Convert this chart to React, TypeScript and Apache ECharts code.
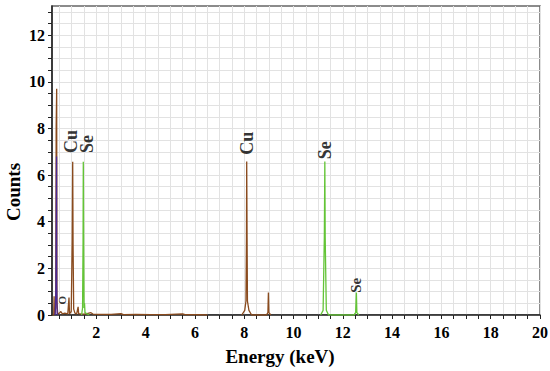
import React, { useEffect, useRef } from "react";
import * as echarts from "echarts";

// Tick positions and labels
const xTickValues = [0.5,1,1.5,2,2.5,3,3.5,4,4.5,5,5.5,6,6.5,7,7.5,8,8.5,9,9.5,10,10.5,11,11.5,12,12.5,13,13.5,14,14.5,15,15.5,16,16.5,17,17.5,18,18.5,19,19.5,20];
const xLabelValues = [2,4,6,8,10,12,14,16,18,20];
const yTickValues = [0,0.5,1,1.5,2,2.5,3,3.5,4,4.5,5,5.5,6,6.5,7,7.5,8,8.5,9,9.5,10,10.5,11,11.5,12,12.5,13];
const yLabelValues = [0,2,4,6,8,10,12];
const xTitle = "Energy (keV)";
const yTitle = "Counts";

// Spectrum traces: [energy keV, counts]
const lowPurple = [[0.33,0],[0.36,1.2],[0.385,6.8],[0.39,1.3],[0.41,0]];
const lowBrown = [[0.22,0],[0.27,0],[0.285,0.8],[0.30,0.05],[0.35,0.3],[0.37,8.1],[0.39,9.7],[0.40,0.6],[0.43,0.05],[0.5,0.08],[0.56,0.15],[0.62,0.05],[0.72,0.08],[0.84,0.05],[0.89,0.75],[0.91,0.05],[0.98,0.15],[1.02,3.2],[1.04,6.57],[1.055,3.0],[1.08,0.25],[1.13,0.08],[1.2,0.05],[1.26,0.35],[1.28,0.06],[1.36,0.05],[1.5,0.04],[1.62,0.06],[1.78,0.1],[1.86,0.04],[2.1,0.03],[2.6,0.03],[3.0,0.06],[3.1,0.02],[3.6,0.03],[4.2,0.02],[4.8,0.02],[5.5,0.05],[5.6,0.02],[6.2,0.01],[6.5,0]];
const seL = [[1.40,0],[1.44,0.3],[1.46,3.1],[1.47,6.57],[1.485,2.9],[1.50,0.3],[1.52,0.5],[1.54,0.1],[1.62,0.05],[1.72,0]];
const cuK = [[7.9,0],[8.02,0.2],[8.07,0.6],[8.09,3.3],[8.10,6.58],[8.115,3.3],[8.13,0.6],[8.19,0.2],[8.3,0],[8.9,0],[8.96,0.1],[8.98,0.96],[9.0,0.1],[9.08,0]];
const seK = [[11.1,0],[11.2,0.2],[11.25,3.36],[11.27,6.58],[11.285,3.3],[11.33,0.2],[11.42,0],[12.45,0],[12.52,0.1],[12.55,0.96],[12.57,0.1],[12.65,0]];

// Peak labels: [energy, counts at label base, text, font size]
const peakLabels: [number, number, string, number][] = [
  [0.60, 0.45, "O", 11],
  [0.98, 6.95, "Cu", 18],
  [1.60, 6.95, "Se", 18],
  [8.10, 6.87, "Cu", 18],
  [11.27, 6.68, "Se", 18],
  [12.52, 0.95, "Se", 15],
];

const FONT = '"Liberation Serif", "Times New Roman", serif';

export default function App() {
  const ref = useRef<HTMLDivElement>(null);
  useEffect(() => {
    if (!ref.current) return;
    const chart = echarts.init(ref.current, undefined, { renderer: "svg" });
    const lineSeries = (data: number[][], color: string, z = 3) => ({
      type: "line",
      data,
      showSymbol: false,
      symbol: "none",
      z,
      lineStyle: { color, width: 1.3 },
      animation: false,
    });
    chart.setOption({
      animation: false,
      backgroundColor: "#ffffff",
      grid: {
        left: 52,
        right: 10,
        top: 6,
        bottom: 56,
        show: true,
        borderColor: "#666666",
        borderWidth: 1.5,
        backgroundColor: "transparent",
        outerBoundsMode: "none",
        containLabel: false,
      },
      graphic: [
        {
          type: "text",
          x: 13,
          y: 192,
          rotation: Math.PI / 2,
          style: {
            text: yTitle,
            fontFamily: FONT,
            fontWeight: "bold",
            fontSize: 19,
            fill: "#000",
            align: "center",
            verticalAlign: "middle",
          },
        },
      ],
      xAxis: {
        type: "value",
        min: 0.2,
        max: 20,
        name: xTitle,
        nameLocation: "middle",
        nameGap: 32,
        nameTextStyle: { fontFamily: FONT, fontWeight: "bold", fontSize: 19, color: "#000", padding: [0, 32, 0, 0] },
        axisLine: { lineStyle: { color: "#222", width: 1.5 } },
        axisTick: { show: true, inside: false, length: 4, customValues: xTickValues, lineStyle: { color: "#222" } },
        axisLabel: { customValues: xLabelValues, fontFamily: FONT, fontWeight: "bold", fontSize: 16, color: "#000", margin: 9 },
        splitLine: { show: true, lineStyle: { color: "#e2e2e2", width: 1 } },
      },
      yAxis: {
        type: "value",
        min: 0,
        max: 13.25,
        axisLine: { show: true, lineStyle: { color: "#222", width: 1.5 } },
        axisTick: { show: true, inside: false, length: 4, customValues: yTickValues, lineStyle: { color: "#222" } },
        axisLabel: { customValues: yLabelValues, fontFamily: FONT, fontWeight: "bold", fontSize: 16, color: "#000", margin: 7 },
        splitLine: { show: true, lineStyle: { color: "#e2e2e2", width: 1 } },
      },
      series: [
        lineSeries(lowBrown, "#8a4b1e", 3),
        lineSeries(lowPurple, "#4a2a96", 4),
        lineSeries(seL, "#63c436", 3),
        lineSeries(cuK, "#8a4b1e", 3),
        lineSeries(seK, "#63c436", 3),
        {
          type: "scatter",
          data: peakLabels.map((p) => ({
            value: [p[0], p[1]],
            name: p[2],
            label: {
              show: true,
              position: "inside",
              rotate: 90,
              align: "left",
              verticalAlign: "middle",
              fontFamily: FONT,
              fontWeight: "bold",
              fontSize: p[3],
              color: "#000",
            },
          })),
          symbolSize: 1,
          itemStyle: { color: "rgba(0,0,0,0)" },
          z: 5,
          label: {
            show: true,
            position: "inside",
            formatter: (p: any) => p.name,
            rotate: 90,
            align: "left",
            verticalAlign: "middle",
            fontFamily: FONT,
            fontWeight: "bold",
            color: "#000",
          },
        },
      ],
    });
    return () => chart.dispose();
  }, []);
  return <div ref={ref} style={{ width: 550, height: 371, position: "absolute", left: 0, top: 0 }} />;
}
